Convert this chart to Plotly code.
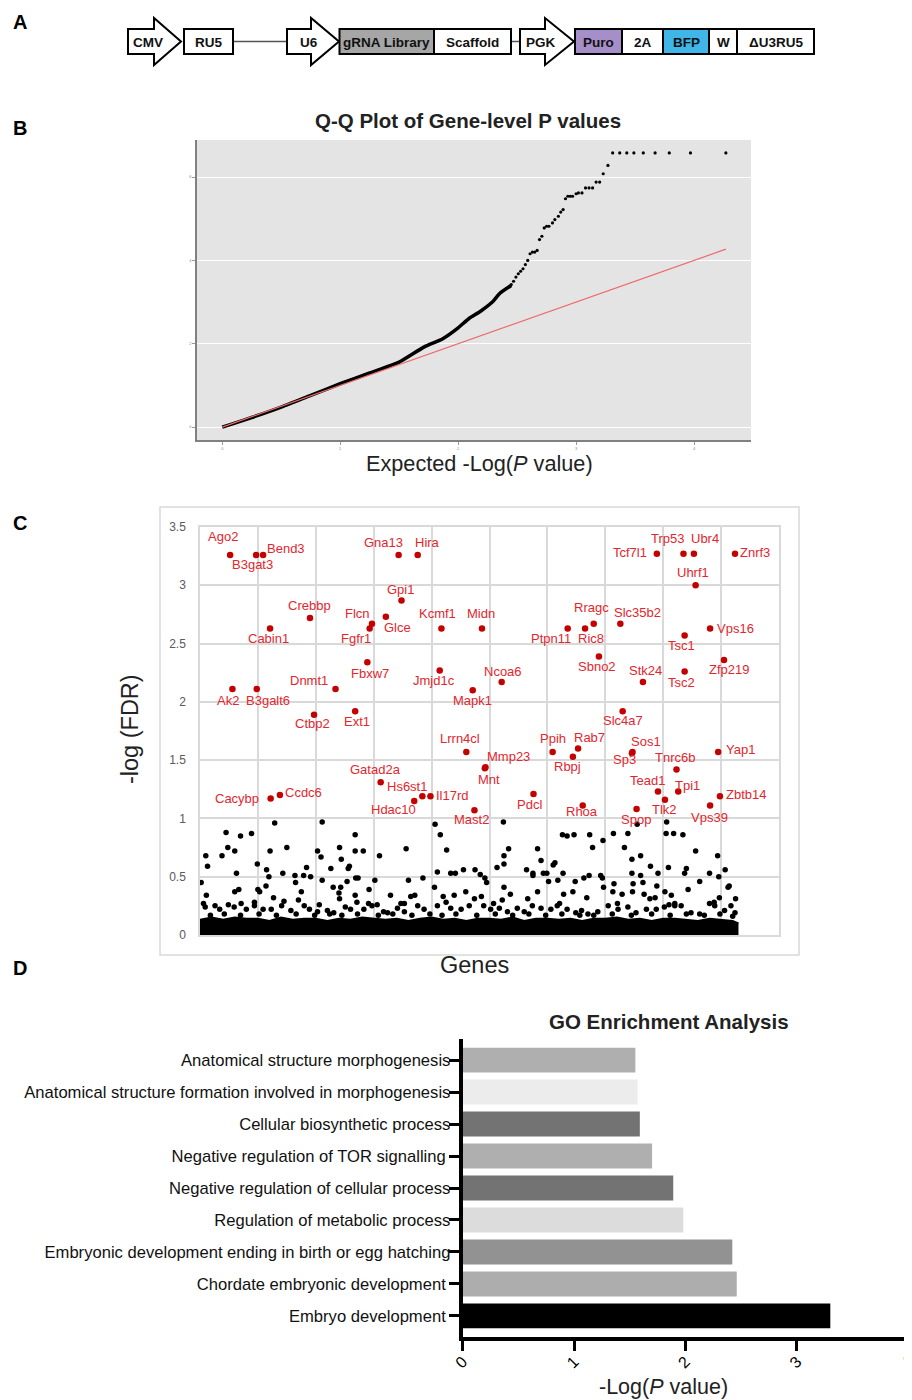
import plotly.graph_objects as go

# page body has an 8px margin; the figure is sized so the page matches the 912x1400 reference
OFF = 8
FIG_W, FIG_H = 912 - OFF, 1400 - OFF
FONT = "Liberation Sans, Arial, sans-serif"

# ---------------- Panel B : Q-Q plot ----------------
qq_line_expected = [0.0, 0.1, 0.25, 0.5, 0.75, 1.0, 1.25, 1.5, 1.71, 1.87, 2.0, 2.09, 2.19, 2.29, 2.35, 2.45]
qq_line_observed = [0.0, 0.09, 0.23, 0.48, 0.76, 1.04, 1.30, 1.56, 1.92, 2.12, 2.38, 2.60, 2.78, 3.00, 3.20, 3.40]
qq_tail_expected = [2.45, 2.47, 2.49, 2.51, 2.53, 2.55, 2.57, 2.59, 2.61, 2.63, 2.65, 2.67, 2.69, 2.71,
                    2.73, 2.75, 2.77, 2.80, 2.82, 2.85, 2.87, 2.89, 2.91, 2.93, 2.95, 2.97, 3.00, 3.02,
                    3.05, 3.08, 3.11, 3.14, 3.17, 3.20, 3.23, 3.27]
qq_tail_observed = [3.42, 3.50, 3.60, 3.68, 3.74, 3.80, 3.90, 4.00, 4.16, 4.20, 4.20, 4.24, 4.50, 4.58,
                    4.78, 4.82, 4.82, 4.90, 4.98, 5.06, 5.16, 5.22, 5.48, 5.54, 5.54, 5.54, 5.60, 5.62,
                    5.62, 5.74, 5.74, 5.74, 5.88, 5.88, 6.08, 6.28]
qq_top_expected = [3.31, 3.37, 3.43, 3.49, 3.57, 3.67, 3.79, 3.97, 4.27]
qq_top_observed = [6.58, 6.58, 6.58, 6.58, 6.58, 6.58, 6.58, 6.58, 6.58]
ref_expected = [0.0, 4.27]
ref_observed = [0.0, 4.27]

# ---------------- Panel C : gene-level -log(FDR) ----------------
hit_genes = ["Ago2", "B3gat3", "Bend3", "Gna13", "Hira", "Gpi1", "Crebbp", "Flcn", "Fgfr1", "Glce",
             "Cabin1", "Kcmf1", "Fbxw7", "Jmjd1c", "Dnmt1", "Ak2", "B3galt6", "Ctbp2", "Ext1", "Mapk1",
             "Midn", "Ncoa6", "Ptpn11", "Ric8", "Rragc", "Slc35b2", "Sbno2", "Stk24", "Slc4a7", "Tcf7l1",
             "Trp53", "Ubr4", "Znrf3", "Uhrf1", "Tsc1", "Vps16", "Zfp219", "Tsc2", "Lrrn4cl", "Gatad2a",
             "Hs6st1", "Il17rd", "Hdac10", "Cacybp", "Ccdc6", "Mast2", "Mnt", "Mmp23", "Ppih", "Rab7",
             "Rbpj", "Sos1", "Sp3", "Yap1", "Tnrc6b", "Tead1", "Tpi1", "Tlk2", "Zbtb14", "Vps39",
             "Pdcl", "Rhoa", "Spop"]
hit_pos = [0.52, 0.97, 1.09, 3.43, 3.76, 3.48, 1.90, 2.97, 2.93, 3.21,
           1.21, 4.17, 2.89, 4.14, 2.34, 0.56, 0.98, 1.97, 2.68, 4.71,
           4.87, 5.21, 6.35, 6.65, 6.80, 7.26, 6.89, 7.65, 7.30, 7.89,
           8.35, 8.53, 9.24, 8.56, 8.37, 8.81, 9.05, 8.37, 4.60, 3.12,
           3.84, 3.98, 3.70, 1.22, 1.38, 4.74, 4.92, 4.93, 6.09, 6.53,
           6.44, 7.47, 7.46, 8.95, 8.23, 7.91, 8.26, 8.03, 8.98, 8.81,
           5.76, 6.61, 7.54]
hit_fdr = [3.26, 3.26, 3.26, 3.26, 3.26, 2.87, 2.72, 2.67, 2.63, 2.73,
           2.63, 2.63, 2.34, 2.27, 2.11, 2.11, 2.11, 1.89, 1.92, 2.10,
           2.63, 2.17, 2.63, 2.63, 2.67, 2.67, 2.39, 2.17, 1.92, 3.27,
           3.27, 3.27, 3.27, 3.00, 2.57, 2.63, 2.36, 2.26, 1.57, 1.31,
           1.19, 1.19, 1.15, 1.17, 1.20, 1.07, 1.43, 1.44, 1.57, 1.60,
           1.53, 1.57, 1.56, 1.57, 1.42, 1.23, 1.23, 1.16, 1.19, 1.11,
           1.21, 1.11, 1.08]

bg_points = [
    (1.29, 0.96), (2.11, 0.97), (0.45, 0.88), (0.70, 0.85), (0.89, 0.87), (2.68, 0.86), (0.10, 0.68),
    (0.13, 0.59), (0.48, 0.75), (0.38, 0.68), (0.60, 0.72), (1.21, 0.72), (1.50, 0.75), (2.03, 0.72),
    (2.09, 0.67), (2.41, 0.75), (2.44, 0.65), (2.68, 0.72), (2.82, 0.72), (3.10, 0.68), (0.99, 0.61),
    (1.15, 0.56), (0.63, 0.53), (1.19, 0.50), (1.43, 0.53), (1.64, 0.51), (1.84, 0.58), (1.79, 0.51),
    (1.91, 0.50), (2.26, 0.57), (2.56, 0.57), (2.58, 0.59), (2.11, 0.47), (1.65, 0.45), (2.54, 0.46),
    (2.69, 0.49), (2.73, 0.49), (3.02, 0.47), (0.02, 0.45), (0.11, 0.34), (0.67, 0.39), (0.60, 0.37),
    (1.00, 0.39), (1.03, 0.37), (1.14, 0.42), (1.75, 0.37), (2.30, 0.41), (2.43, 0.41), (2.40, 0.36),
    (2.68, 0.34), (1.27, 0.32), (1.45, 0.29), (1.70, 0.30), (2.92, 0.39), (0.06, 0.27), (0.71, 0.27),
    (0.94, 0.28), (2.06, 0.26), (2.41, 0.31), (3.06, 0.26), (2.71, 0.28), (2.91, 0.27),
    (4.06, 0.95), (4.15, 0.86), (5.24, 0.97), (3.56, 0.74), (4.26, 0.73), (5.33, 0.74), (6.26, 0.86),
    (6.34, 0.85), (6.46, 0.86), (5.83, 0.74), (5.89, 0.64), (5.25, 0.68), (5.25, 0.61), (5.13, 0.58),
    (4.10, 0.54), (4.33, 0.53), (4.41, 0.53), (4.55, 0.56), (4.75, 0.56), (4.84, 0.52), (4.92, 0.49),
    (4.95, 0.45), (3.85, 0.49), (3.60, 0.47), (5.64, 0.56), (5.75, 0.53), (5.75, 0.51), (5.93, 0.53),
    (5.99, 0.53), (6.02, 0.46), (6.10, 0.60), (6.13, 0.62), (6.18, 0.47), (6.27, 0.53), (6.48, 0.46),
    (4.05, 0.41), (5.25, 0.41), (3.29, 0.34), (3.64, 0.33), (3.71, 0.34), (4.59, 0.37), (4.39, 0.34),
    (4.20, 0.33), (4.74, 0.31), (4.86, 0.33), (5.36, 0.35), (5.22, 0.30), (5.83, 0.37), (5.66, 0.31),
    (6.28, 0.35), (6.44, 0.37), (3.47, 0.27), (3.53, 0.27), (5.07, 0.27), (6.21, 0.27),
    (7.55, 0.95), (8.06, 0.97), (6.73, 0.86), (7.14, 0.87), (7.39, 0.87), (8.05, 0.87), (8.18, 0.87),
    (8.34, 0.86), (6.96, 0.81), (6.78, 0.75), (7.33, 0.75), (8.56, 0.72), (7.46, 0.65), (7.61, 0.68),
    (7.78, 0.59), (8.09, 0.58), (8.40, 0.57), (8.94, 0.68), (9.07, 0.56), (7.46, 0.53), (7.61, 0.51),
    (7.91, 0.53), (8.37, 0.53), (8.80, 0.53), (8.96, 0.50), (6.63, 0.49), (6.72, 0.51), (6.92, 0.51),
    (6.95, 0.49), (8.63, 0.46), (7.15, 0.44), (7.48, 0.44), (7.65, 0.45), (6.97, 0.41), (7.89, 0.42),
    (8.43, 0.39), (9.12, 0.41), (9.14, 0.42), (7.13, 0.37), (7.29, 0.35), (7.47, 0.37), (7.67, 0.35),
    (8.03, 0.37), (8.14, 0.34), (6.68, 0.32), (7.86, 0.32), (7.77, 0.31), (8.97, 0.32), (9.25, 0.31),
    (7.21, 0.27), (8.20, 0.27), (8.88, 0.28), (8.10, 0.26),
    (0.09, 0.24), (0.26, 0.25), (0.34, 0.22), (0.49, 0.26), (0.59, 0.24), (0.80, 0.22), (0.94, 0.25),
    (1.09, 0.22), (1.23, 0.22), (1.41, 0.25), (1.57, 0.21), (1.80, 0.25), (1.89, 0.22), (2.03, 0.20),
    (2.20, 0.21), (2.31, 0.19), (2.51, 0.24), (2.60, 0.22), (2.83, 0.22), (2.97, 0.25), (3.17, 0.20),
    (3.24, 0.19), (3.41, 0.23), (3.53, 0.20), (3.76, 0.25), (3.87, 0.22), (4.10, 0.25), (4.25, 0.28),
    (4.33, 0.23), (4.51, 0.22), (4.65, 0.25), (4.90, 0.25), (5.02, 0.22), (5.17, 0.23), (5.31, 0.20),
    (5.48, 0.23), (5.60, 0.20), (5.74, 0.25), (5.89, 0.23), (6.06, 0.22), (6.17, 0.25), (6.34, 0.22),
    (6.49, 0.19), (6.59, 0.21), (6.70, 0.18), (6.87, 0.20), (7.05, 0.25), (7.22, 0.22), (7.39, 0.24),
    (7.53, 0.19), (7.71, 0.22), (7.88, 0.22), (8.02, 0.24), (8.20, 0.25), (8.31, 0.25), (8.48, 0.19),
    (8.63, 0.18), (8.80, 0.27), (8.89, 0.25), (9.06, 0.21), (9.17, 0.25), (9.24, 0.19),
    (0.18, 0.17), (0.42, 0.18), (0.70, 0.17), (1.02, 0.18), (1.32, 0.17), (1.66, 0.18), (1.98, 0.17),
    (2.24, 0.18), (2.45, 0.17), (2.72, 0.18), (3.08, 0.17), (3.33, 0.18), (3.66, 0.17), (3.97, 0.18),
    (4.18, 0.17), (4.42, 0.18), (4.78, 0.17), (5.10, 0.18), (5.40, 0.17), (5.68, 0.18), (5.97, 0.17),
    (6.25, 0.18), (6.56, 0.17), (6.80, 0.17), (7.12, 0.18), (7.45, 0.17), (7.80, 0.18), (8.12, 0.17),
    (8.40, 0.18), (8.71, 0.17), (8.98, 0.18), (9.20, 0.16),
]
bg_pos = [p[0] for p in bg_points]
bg_fdr = [p[1] for p in bg_points]

band_pos = [0.0, 0.2, 0.4, 0.6, 0.8, 1.0, 1.2, 1.4, 1.6, 1.8, 2.0, 2.2, 2.4, 2.6, 2.8, 3.0,
            3.2, 3.4, 3.6, 3.8, 4.0, 4.2, 4.4, 4.6, 4.8, 5.0, 5.2, 5.4, 5.6, 5.8, 6.0, 6.2,
            6.4, 6.6, 6.8, 7.0, 7.2, 7.4, 7.6, 7.8, 8.0, 8.2, 8.4, 8.6, 8.8, 9.0, 9.2, 9.3]
band_fdr = [0.13, 0.15, 0.13, 0.15, 0.14, 0.14, 0.12, 0.15, 0.13, 0.14, 0.14, 0.12, 0.14, 0.13, 0.15, 0.14,
            0.13, 0.14, 0.12, 0.14, 0.15, 0.13, 0.14, 0.12, 0.14, 0.14, 0.13, 0.15, 0.12, 0.14, 0.14, 0.13,
            0.14, 0.12, 0.14, 0.14, 0.15, 0.13, 0.14, 0.12, 0.14, 0.14, 0.13, 0.12, 0.14, 0.13, 0.12, 0.10]
fdr_ticks = [0, 0.5, 1, 1.5, 2, 2.5, 3, 3.5]
fdr_ticktext = ["0", "0.5", "1", "1.5", "2", "2.5", "3", "3.5"]

# ---------------- Panel D : GO enrichment ----------------
go_terms = ["Anatomical structure morphogenesis",
            "Anatomical structure formation involved in morphogenesis",
            "Cellular biosynthetic process",
            "Negative regulation of TOR signalling",
            "Negative regulation of cellular process",
            "Regulation of metabolic process",
            "Embryonic development ending in birth or egg hatching",
            "Chordate embryonic development",
            "Embryo development"]
go_values = [1.55, 1.57, 1.59, 1.70, 1.89, 1.98, 2.42, 2.46, 3.30]
go_ticks = [0, 1, 2, 3, 4]

# ---------------- styles ----------------
BAR_COLORS = ["#afafaf", "#ececec", "#737373", "#afafaf", "#737373", "#dcdcdc", "#929292", "#adadad", "#000000"]
LABEL_PAD = ["", "", "", "\u00a0", "", "", "", "\u00a0", "\u00a0"]
LABEL_OFFSETS = {
    "Ago2": (-7, 18), "B3gat3": (-4, -10), "Bend3": (23, 6), "Gna13": (-15, 12), "Hira": (10, 12),
    "Gpi1": (-1, 11), "Crebbp": (-1, 12), "Flcn": (-14, 10), "Fgfr1": (-14, -10), "Glce": (12, -11),
    "Cabin1": (-2, -10), "Kcmf1": (-4, 15), "Fbxw7": (3, -11), "Jmjd1c": (-6, -10), "Dnmt1": (-26, 9),
    "Ak2": (-4, -11), "B3galt6": (11, -11), "Ctbp2": (-2, -9), "Ext1": (2, -10), "Mapk1": (0, -10),
    "Midn": (-1, 15), "Ncoa6": (1, 11), "Ptpn11": (-17, -10), "Ric8": (6, -10), "Rragc": (-2, 16),
    "Slc35b2": (17, 11), "Sbno2": (-2, -10), "Stk24": (3, 12), "Slc4a7": (0, -9), "Tcf7l1": (-27, 1),
    "Trp53": (-16, 15), "Ubr4": (11, 15), "Znrf3": (20, 1), "Uhrf1": (-3, 13), "Tsc1": (-3, -10),
    "Vps16": (25, 0), "Zfp219": (5, -10), "Tsc2": (-3, -11), "Lrrn4cl": (-6, 13), "Gatad2a": (-5, 13),
    "Hs6st1": (-15, 10), "Il17rd": (22, 1), "Hdac10": (-21, -9), "Cacybp": (-34, 0), "Ccdc6": (24, 3),
    "Mast2": (-3, -9), "Mnt": (4, -11), "Mmp23": (23, 11), "Ppih": (0, 13), "Rab7": (11, 11),
    "Rbpj": (-5, -10), "Sos1": (13, 10), "Sp3": (-7, -6), "Yap1": (22, 2), "Tnrc6b": (-2, 12),
    "Tead1": (-10, 11), "Tpi1": (9, 6), "Tlk2": (0, -10), "Zbtb14": (26, 2), "Vps39": (-1, -12),
    "Pdcl": (-4, -11), "Rhoa": (-1, -6), "Spop": (-1, -10),
}


def pxx(x):
    return (x - OFF) / FIG_W


def pxy(y):
    return 1 - (y - OFF) / FIG_H


def note(x, y, text, size, color="#222", **kw):
    return dict(x=pxx(x), y=pxy(y), xref="paper", yref="paper", text=text, showarrow=False,
                xanchor="center", yanchor="middle", font=dict(size=size, color=color, family=FONT), **kw)


fig = go.Figure()

# ---- Panel B traces ----
fig.add_trace(go.Scatter(x=qq_line_expected, y=qq_line_observed, mode="lines",
                         line=dict(color="black", width=3.5, shape="spline", smoothing=0.6),
                         xaxis="x", yaxis="y", hoverinfo="skip"))
fig.add_trace(go.Scatter(x=qq_tail_expected + qq_top_expected, y=qq_tail_observed + qq_top_observed,
                         mode="markers", marker=dict(color="black", size=3.2), xaxis="x", yaxis="y"))
fig.add_trace(go.Scatter(x=ref_expected, y=ref_observed, mode="lines",
                         line=dict(color="#ee6a6a", width=1.2), xaxis="x", yaxis="y"))

# ---- Panel C traces ----
fig.add_trace(go.Scatter(x=band_pos, y=band_fdr, mode="lines", fill="tozeroy", fillcolor="black",
                         line=dict(color="black", width=2), xaxis="x2", yaxis="y2"))
fig.add_trace(go.Scatter(x=bg_pos, y=bg_fdr, mode="markers", marker=dict(color="black", size=5.5),
                         xaxis="x2", yaxis="y2"))
fig.add_trace(go.Scatter(x=hit_pos, y=hit_fdr, mode="markers", marker=dict(color="#c40000", size=6.5),
                         text=hit_genes, xaxis="x2", yaxis="y2"))

# ---- Panel D trace ----
fig.add_trace(go.Bar(x=go_values, y=go_terms, orientation="h", marker=dict(color=BAR_COLORS, line=dict(width=0)),
                     width=0.78, xaxis="x3", yaxis="y3"))

annotations = []
shapes = []

# panel C labels
for g, xv, yv in zip(hit_genes, hit_pos, hit_fdr):
    dx, dy = LABEL_OFFSETS[g]
    annotations.append(dict(x=xv, y=yv, xref="x2", yref="y2", text=g, showarrow=False,
                            xanchor="center", yanchor="middle",
                            xshift=dx, yshift=dy, font=dict(size=13, color="#e3262e", family=FONT)))

# panel letters
for letter, yy in [("A", 22), ("B", 128), ("C", 523), ("D", 968)]:
    annotations.append(note(20, yy, f"<b>{letter}</b>", 20, color="black"))

# titles
annotations += [
    note(468, 121, "<b>Q-Q Plot of Gene-level P values</b>", 20.5),
    note(479, 463, "Expected -Log(<i>P</i> value)", 21.7),
    note(130, 729, "-log (FDR)", 23.5, textangle=-90),
    note(474, 965, "Genes", 23.5),
    note(669, 1021, "<b>GO Enrichment Analysis</b>", 20.5),
    note(663, 1387, "-Log(<i>P</i> value)", 21.5),
]

# panel B background
shapes.append(dict(type="rect", xref="x domain", yref="y domain", x0=0, x1=1, y0=0, y1=1,
                   fillcolor="#e4e4e4", line=dict(width=0), layer="below"))
# panel C frame
shapes.append(dict(type="rect", xref="paper", yref="paper", x0=pxx(160), x1=pxx(799), y0=pxy(955), y1=pxy(507),
                   line=dict(color="#d9d9d9", width=1.5), fillcolor="rgba(0,0,0,0)", layer="below"))

# ---- Panel A construct diagram (schematic in page-pixel space of axis x4/y4) ----
BT, BB, AT, AB, MID = 29, 54, 18, 65, 41.5


def arrow(x0, xb, xt, label, tx):
    shapes.append(dict(type="path", xref="x4", yref="y4",
                       path=f"M{x0},{BT} L{xb},{BT} L{xb},{AT} L{xt},{MID} L{xb},{AB} L{xb},{BB} L{x0},{BB} Z",
                       line=dict(color="black", width=2), fillcolor="white"))
    annotations.append(dict(x=tx, y=MID + 1, xref="x4", yref="y4", text=f"<b>{label}</b>", showarrow=False,
                            xanchor="center", yanchor="middle",
                            font=dict(size=13.5, color="#111", family=FONT)))


def box(x0, x1, label, fill="white", color="#111"):
    shapes.append(dict(type="rect", xref="x4", yref="y4", x0=x0, x1=x1, y0=BT, y1=BB,
                       line=dict(color="black", width=2), fillcolor=fill))
    annotations.append(dict(x=(x0 + x1) / 2, y=MID + 1, xref="x4", yref="y4", text=f"<b>{label}</b>",
                            showarrow=False, xanchor="center", yanchor="middle",
                            font=dict(size=13.5, color=color, family=FONT)))


shapes.append(dict(type="line", xref="x4", yref="y4", x0=233, x1=287, y0=MID, y1=MID,
                   line=dict(color="#555", width=1.5)))
shapes.append(dict(type="line", xref="x4", yref="y4", x0=511, x1=520, y0=MID, y1=MID,
                   line=dict(color="#555", width=1.5)))
arrow(128, 154, 181, "CMV", 148)
box(184, 233, "RU5")
arrow(287, 311, 339, "U6", 309)
box(339.5, 434, "gRNA Library", fill="#a6a6a6")
box(434, 511, "Scaffold")
arrow(520, 545, 574, "PGK", 541)
box(575, 622, "Puro", fill="#a68fc8")
box(622, 663, "2A")
box(663, 709, "BFP", fill="#3fb5e8")
box(709, 737, "W")
box(737, 814, "ΔU3RU5")

fig.update_layout(
    template=None,
    width=FIG_W, height=FIG_H, margin=dict(l=0, r=0, t=0, b=0, pad=0, autoexpand=False),
    paper_bgcolor="white", plot_bgcolor="rgba(0,0,0,0)", showlegend=False,
    font=dict(family=FONT),
    annotations=annotations, shapes=shapes,
    # Panel B
    xaxis=dict(domain=[pxx(197), pxx(751)], range=[-0.214, 4.483], anchor="y", automargin=False,
               showgrid=False, zeroline=False, showline=True, linecolor="#808080", linewidth=1.5,
               ticks="outside", ticklen=3, tickcolor="#999", tickvals=[0, 1, 2, 3, 4],
               tickfont=dict(size=4, color="#888")),
    yaxis=dict(domain=[pxy(440), pxy(140)], range=[-0.31, 6.89], anchor="x", automargin=False,
               showgrid=True, gridcolor="white", gridwidth=1, zeroline=False,
               showline=True, linecolor="#808080", linewidth=1.5,
               ticks="outside", ticklen=3, tickcolor="#999", tickvals=[0, 2, 4, 6],
               tickfont=dict(size=4, color="#888")),
    # Panel C
    xaxis2=dict(domain=[pxx(200), pxx(779)], range=[0, 10], anchor="y2", dtick=1, tick0=0, automargin=False,
                showgrid=True, gridcolor="#d9d9d9", gridwidth=1.5, zeroline=False,
                showline=True, mirror=True, linecolor="#d9d9d9", linewidth=1.5, showticklabels=False),
    yaxis2=dict(domain=[pxy(935), pxy(527)], range=[0, 3.5], anchor="x2", automargin=False,
                tickvals=fdr_ticks, ticktext=fdr_ticktext,
                showgrid=True, gridcolor="#d9d9d9", gridwidth=1.5, zeroline=False,
                showline=True, mirror=True, linecolor="#d9d9d9", linewidth=1.5,
                ticks="outside", ticklen=10, tickcolor="rgba(0,0,0,0)",
                tickfont=dict(size=12, color="#595959")),
    # Panel D
    xaxis3=dict(domain=[pxx(462.7), pxx(908.3)], range=[0, 4], anchor="y3", tickvals=go_ticks, automargin=False,
                showgrid=False, zeroline=False, showline=True, linecolor="black", linewidth=4,
                ticks="outside", ticklen=10, tickwidth=3, tickcolor="black", tickangle=-45,
                ticklabelstandoff=-5, ticklabeloverflow="allow",
                tickfont=dict(size=16, color="black")),
    yaxis3=dict(domain=[pxy(1337), pxy(1039)], range=[8.66, -0.66], anchor="x3", automargin=False,
                type="category", categoryorder="array", categoryarray=go_terms,
                tickmode="array", tickvals=go_terms, ticktext=[t + p for t, p in zip(go_terms, LABEL_PAD)],
                showgrid=False, zeroline=False, showline=True, linecolor="black", linewidth=4,
                ticks="outside", ticklen=10, tickwidth=3, tickcolor="black",
                ticklabelstandoff=-5,
                tickfont=dict(size=16.6, color="#111")),
    # Panel A schematic space (page pixels)
    xaxis4=dict(domain=[0, 1], range=[OFF, OFF + FIG_W], anchor="y4", visible=False, automargin=False),
    yaxis4=dict(domain=[pxy(80), 1], range=[80, OFF], anchor="x4", visible=False, automargin=False),
)

fig.write_html("out.html")
